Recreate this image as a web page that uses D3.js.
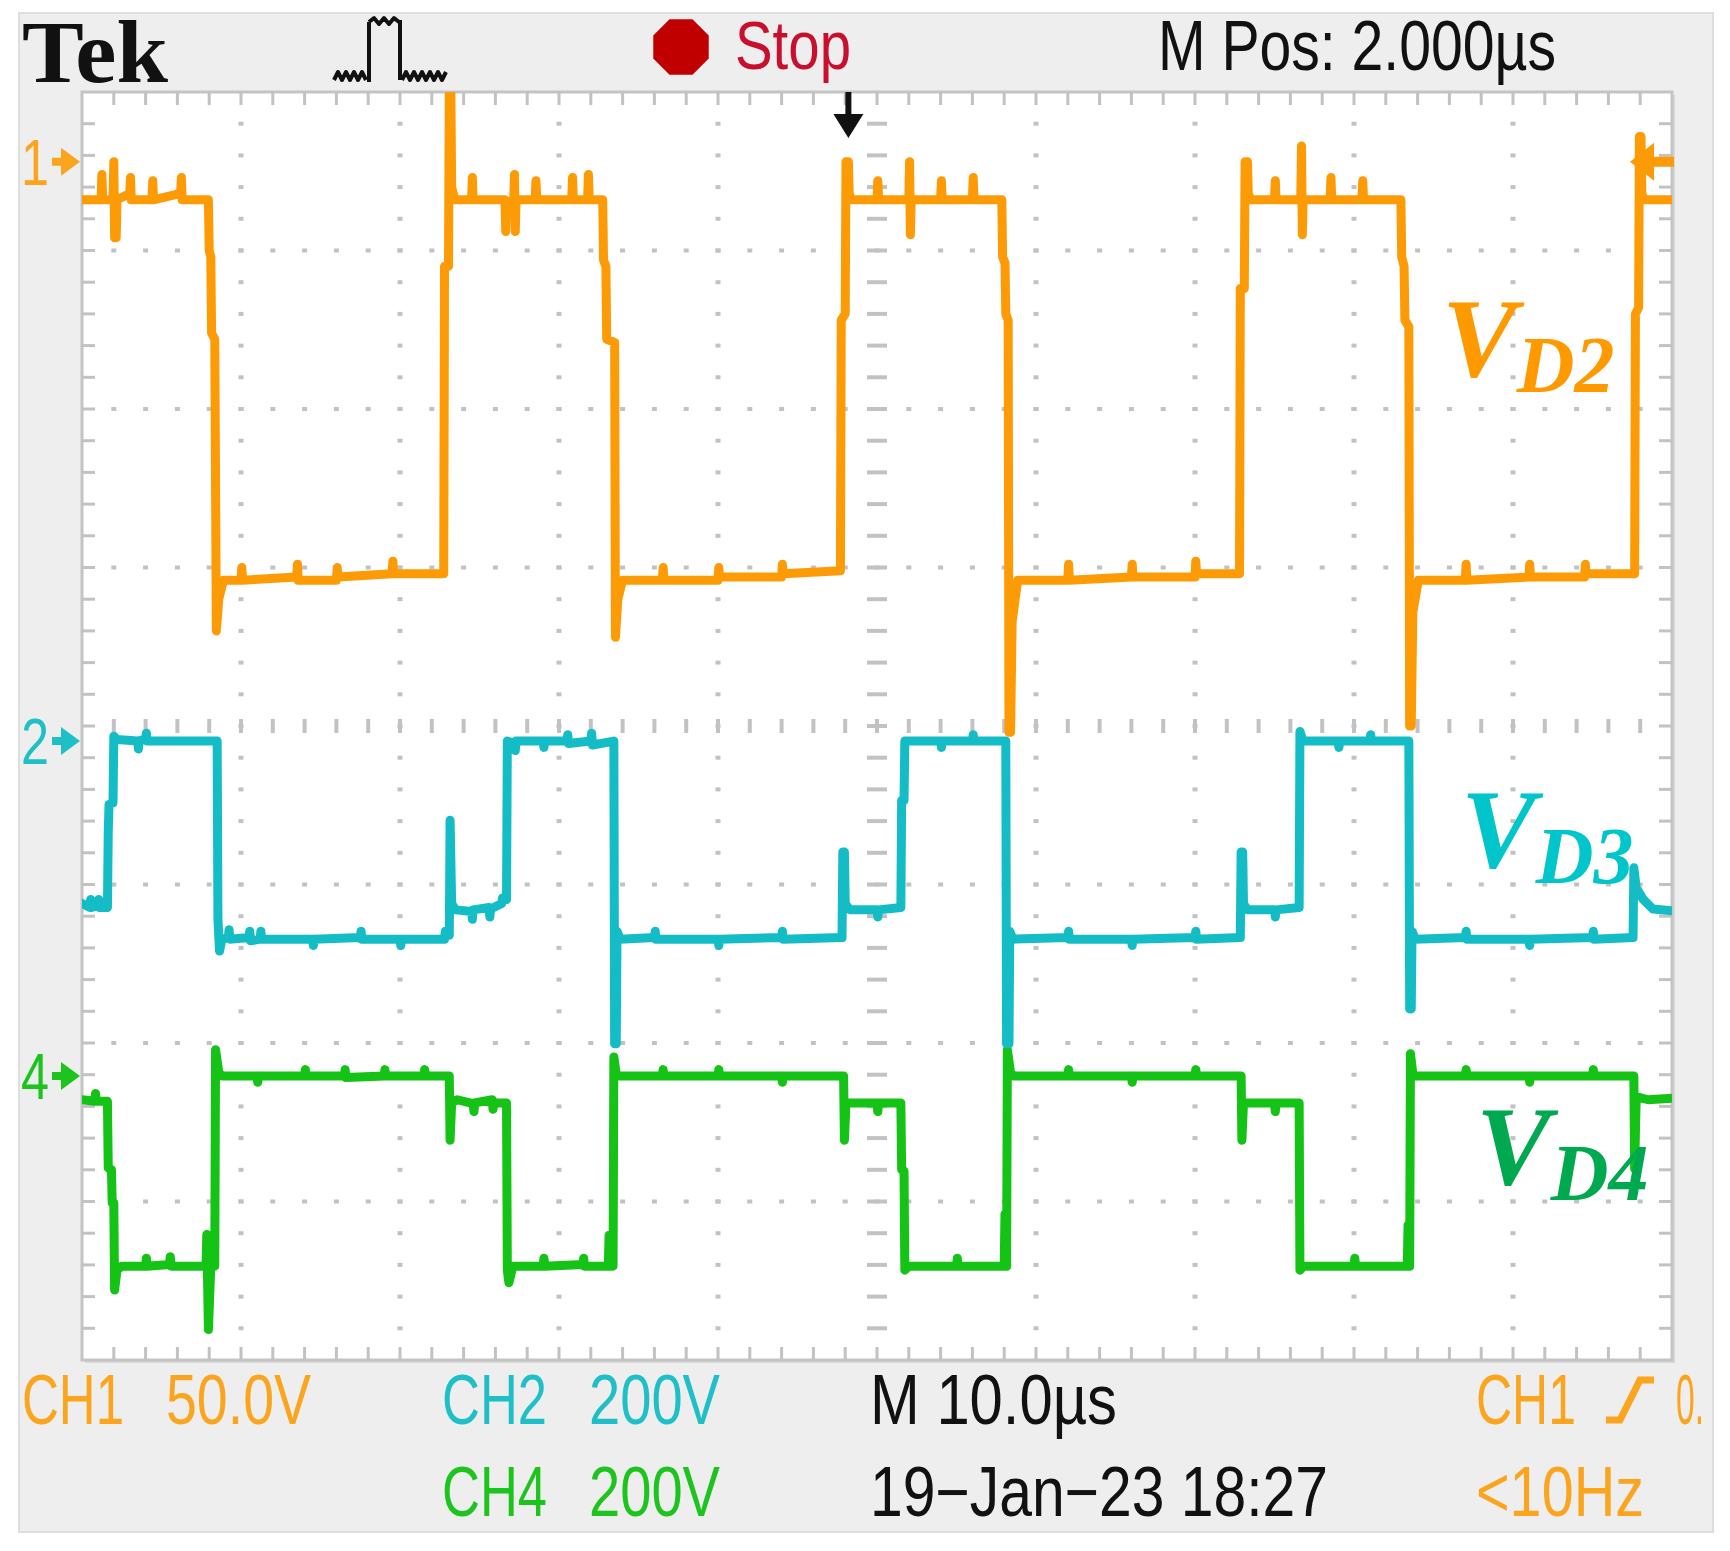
<!DOCTYPE html>
<meta charset="utf-8">
<style>
  body { margin: 0; background: #fff; }
  svg { display: block; }
</style>
<body>
<script src="https://cdn.jsdelivr.net/npm/d3@7"></script>
<script>

// ---- values (time in us, volts per channel) ----
var ch1 = [
  [0,-12],[1.2,-12],[1.25,-4],[1.3,-12],[1.95,-12],[2.0,0],[2.05,-24],[2.15,-24],[2.2,-12],[3,-10],[3.05,-5],[3.1,-12],
  [4.4,-12],[4.45,-6],[4.5,-12],[6.2,-10],[6.25,-5],[6.3,-12],[7.95,-12],[8.0,-28],[8.1,-30],[8.15,-54],[8.35,-56],
  [8.45,-148],[8.6,-138],[8.9,-132],[10,-132],[10.05,-128],[10.1,-132],[13.5,-131],[13.55,-127],[13.6,-132],
  [16,-132],[16.05,-128],[16.1,-131],[19.5,-130],[19.55,-126],[19.6,-130],[22.75,-130],[22.8,-33],[23.05,-33],
  [23.1,22],[23.2,22],[23.25,-8],[23.45,-12],[24.5,-12],[24.55,-5],[24.6,-12],[26.6,-12],[26.65,-22],[26.7,-13],
  [27.15,-12],[27.2,-4],[27.25,-22],[27.3,-12],[28.5,-12],[28.55,-6],[28.6,-12],[30.8,-12],[30.85,-5],[30.9,-12],
  [31.8,-12],[31.85,-4],[31.9,-12],[32.75,-12],[32.8,-31],[32.95,-33],[33.0,-56],[33.5,-57],[33.55,-150],
  [33.7,-138],[34.0,-132],[36.5,-132],[36.55,-128],[36.6,-132],[40,-132],[40.05,-128],[40.1,-131],[44,-131],
  [44.05,-127],[44.1,-130],[47.7,-129],[47.75,-50],[48.0,-48],[48.05,0],[48.2,0],[48.25,-10],[48.4,-12],
  [50,-12],[50.05,-6],[50.1,-12],[52,-12],[52.05,0],[52.1,-23],[52.15,-12],[54,-12],[54.05,-6],[54.1,-12],
  [56,-12],[56.05,-5],[56.1,-12],[57.85,-12],[57.9,-30],[58.05,-32],[58.1,-48],[58.25,-50],[58.3,-180],
  [58.4,-180],[58.5,-145],[58.85,-132],[62,-132],[62.05,-127],[62.1,-132],[66,-131],[66.05,-127],[66.1,-131],
  [70,-131],[70.05,-126],[70.1,-130],[72.8,-130],[72.85,-40],[73.1,-40],[73.15,0],[73.3,0],[73.35,-10],
  [73.5,-12],[75,-12],[75.05,-6],[75.1,-12],[76.65,-12],[76.7,5],[76.75,-23],[76.8,-12],[78.5,-12],[78.55,-5],
  [78.6,-12],[80.5,-12],[80.55,-6],[80.6,-12],[82.95,-12],[83.0,-30],[83.15,-33],[83.2,-50],[83.45,-52],
  [83.5,-178],[83.6,-178],[83.7,-142],[84.05,-132],[87,-132],[87.05,-127],[87.1,-132],[91,-131],[91.05,-127],
  [91.1,-131],[94.5,-131],[94.55,-127],[94.6,-130],[97.65,-130],[97.7,-48],[97.9,-46],[97.95,8],[98.05,8],
  [98.1,-10],[98.25,-12],[100,-12]
];

var ch2 = [
  [0,-205],[0.5,-210],[0.55,-200],[0.6,-210],[1,-208],[1.05,-200],[1.1,-210],[1.6,-210],[1.65,-115],[1.7,-80],
  [1.95,-78],[2,6],[2.2,2],[3.5,0],[3.55,-10],[3.6,0],[4,3],[4.05,10],[4.1,0],[8.5,0],[8.55,-225],[8.65,-265],
  [8.8,-250],[9.2,-248],[9.25,-238],[9.3,-250],[10.5,-248],[10.55,-240],[10.6,-252],[11.2,-250],[11.25,-240],
  [11.3,-250],[14.5,-250],[14.55,-258],[14.6,-250],[17.5,-248],[17.55,-240],[17.6,-250],[20,-250],[20.05,-258],
  [20.1,-250],[22.8,-250],[22.85,-240],[23.1,-245],[23.15,-100],[23.25,-205],[23.5,-213],[24.5,-215],
  [24.55,-225],[24.6,-213],[25.6,-210],[25.65,-222],[25.7,-212],[26.4,-205],[26.45,-198],[26.7,-200],[26.75,0],
  [27.2,-3],[27.25,-12],[27.3,0],[29,0],[29.05,-8],[29.1,0],[30.5,0],[30.55,8],[30.6,-3],[32,0],[32.05,10],
  [32.1,-5],[33.45,0],[33.5,-382],[33.6,-382],[33.65,-240],[33.85,-250],[36,-248],[36.05,-240],[36.1,-250],
  [40,-250],[40.05,-258],[40.1,-250],[44,-248],[44.05,-240],[44.1,-250],[47.8,-248],[47.85,-140],[47.95,-140],
  [48,-205],[48.3,-213],[50,-213],[50.05,-222],[50.1,-213],[51.5,-210],[51.55,-75],[51.7,-75],[51.75,0],[52,0],
  [54,0],[54.05,-8],[54.1,0],[56,0],[56.05,8],[56.1,0],[58.1,0],[58.15,-382],[58.3,-382],[58.35,-240],
  [58.55,-250],[62,-248],[62.05,-240],[62.1,-250],[66,-250],[66.05,-258],[66.1,-250],[70,-248],[70.05,-240],
  [70.1,-250],[72.85,-248],[72.9,-140],[73,-140],[73.05,-205],[73.3,-213],[75,-213],[75.05,-222],[75.1,-213],
  [76.55,-210],[76.6,12],[76.8,0],[79,0],[79.05,-8],[79.1,0],[81,0],[81.05,8],[81.1,0],[83.45,0],[83.5,-338],
  [83.6,-338],[83.65,-240],[83.85,-250],[87,-248],[87.05,-240],[87.1,-250],[91,-250],[91.05,-258],[91.1,-250],
  [95,-248],[95.05,-240],[95.1,-250],[97.55,-248],[97.6,-160],[97.75,-185],[98.2,-200],[98.8,-212],[100,-214]
];

var ch4 = [
  [0,-30],[0.8,-32],[0.85,-22],[0.9,-32],[1.6,-32],[1.65,-116],[1.85,-118],[1.9,-160],[2,-160],[2.05,-270],
  [2.2,-245],[2.5,-240],[4,-240],[4.05,-230],[4.1,-240],[5.5,-238],[5.55,-228],[5.6,-240],[7.8,-240],
  [7.85,-200],[7.95,-320],[8.1,-240],[8.35,-240],[8.4,33],[8.6,5],[8.8,0],[11,0],[11.05,-8],[11.1,0],[14,0],
  [14.05,8],[14.1,0],[16.5,0],[16.55,8],[16.6,-2],[19,0],[19.05,8],[19.1,0],[21.5,0],[21.55,8],[21.6,0],
  [23.1,0],[23.15,-81],[23.25,-34],[23.6,-30],[24.6,-35],[24.65,-45],[24.7,-34],[25.8,-30],[25.85,-42],
  [25.9,-34],[26.7,-34],[26.75,-245],[26.85,-261],[27.1,-240],[29,-240],[29.05,-230],[29.1,-240],[31.5,-238],
  [31.55,-230],[31.6,-240],[33.1,-240],[33.15,-201],[33.25,-240],[33.4,-240],[33.45,24],[33.6,2],[33.8,0],
  [36.5,0],[36.55,8],[36.6,0],[40,0],[40.05,8],[40.1,0],[44,0],[44.05,-8],[44.1,0],[47.9,0],[47.95,-81],
  [48.05,-34],[50,-34],[50.05,-45],[50.1,-34],[51.5,-34],[51.55,-118],[51.7,-120],[51.75,-245],[52,-240],
  [55,-240],[55.05,-230],[55.1,-240],[58,-240],[58.05,-174],[58.15,-240],[58.2,33],[58.4,4],[58.6,0],[62,0],
  [62.05,8],[62.1,0],[66,0],[66.05,-8],[66.1,0],[70,0],[70.05,8],[70.1,0],[72.9,0],[72.95,-81],[73.05,-34],
  [75,-34],[75.05,-45],[75.1,-34],[76.55,-34],[76.6,-245],[76.8,-240],[80,-240],[80.05,-230],[80.1,-240],
  [83.35,-240],[83.4,-188],[83.5,-240],[83.55,28],[83.7,3],[83.9,0],[87,0],[87.05,8],[87.1,0],[91,0],
  [91.05,-8],[91.1,0],[95,0],[95.05,8],[95.1,0],[97.6,0],[97.65,-117],[97.75,-26],[98.5,-30],[100,-28]
];

// vertical settings per channel: volts per division and ground marker (divisions from top)
var voltsPerDiv = { ch1: 50, ch2: 200, ch4: 200 };
var groundDiv   = { ch1: 0.44, ch2: 4.095, ch4: 6.208 };
var triggerTime = 48.2;      // us, trigger position arrow
var triggerLevel = 0;        // volts on CH1

var footerRow1 = ["CH1", "50.0V", "CH2", "200V", "M 10.0\u00b5s", "CH1", "0."];
var footerRow2 = ["CH4", "200V", "19\u2212Jan\u221223 18:27", "<10Hz"];
var traceNames = ["D2", "D3", "D4"];

// ---- layout ----
var W = 1730, H = 1551;
var G = { left: 82, right: 1672, top: 92, bottom: 1360 };
var orange = "#fc9b06", cyan = "#14bdc5", green = "#15c216";
var textOrange = "#fba41e", textCyan = "#1fbfc8", textGreen = "#1ec41e";

var svg = d3.select("body").append("svg")
    .attr("width", W).attr("height", H)
    .attr("viewBox", "0 0 " + W + " " + H);

var xDiv = d3.scaleLinear().domain([0, 10]).range([G.left, G.right]);
var yDiv = d3.scaleLinear().domain([0, 8]).range([G.top, G.bottom]);
var xTime = d3.scaleLinear().domain([0, 100]).range([G.left, G.right]);

function yChan(key) {
  var g = groundDiv[key];
  return d3.scaleLinear().domain([0, -voltsPerDiv[key]]).range([yDiv(g), yDiv(g + 1)]);
}

// panel background
svg.append("rect").attr("x", 19).attr("y", 13).attr("width", 1694).attr("height", 1519)
    .attr("fill", "#eeeeee").attr("stroke", "#dedede").attr("stroke-width", 2);

svg.append("clipPath").attr("id", "gratClip").append("rect")
    .attr("x", G.left).attr("y", G.top).attr("width", G.right - G.left).attr("height", G.bottom - G.top);

// graticule
svg.append("rect").attr("x", G.left + 3).attr("y", G.top + 3)
    .attr("width", G.right - G.left).attr("height", G.bottom - G.top)
    .attr("fill", "#d9d9d9");
svg.append("rect").attr("x", G.left).attr("y", G.top)
    .attr("width", G.right - G.left).attr("height", G.bottom - G.top)
    .attr("fill", "#fff").attr("stroke", "#c4c4c4").attr("stroke-width", 3);

var grid = svg.append("g").attr("fill", "#c2c2c2");
var minorX = d3.range(0, 50.001, 1).map(function(i) { return i / 5; });
var minorY = d3.range(0, 40.001, 1).map(function(i) { return i / 5; });

// dotted major lines
d3.range(1, 10).filter(function(i) { return i !== 5; }).forEach(function(i) {
  grid.selectAll(null).data(minorY.slice(1, -1)).enter().append("rect")
      .attr("x", xDiv(i) - 2.5).attr("y", function(d) { return yDiv(d) - 2; })
      .attr("width", 5).attr("height", 4);
});
d3.range(1, 8).filter(function(i) { return i !== 4; }).forEach(function(i) {
  grid.selectAll(null).data(minorX.slice(1, -1)).enter().append("rect")
      .attr("x", function(d) { return xDiv(d) - 2.5; }).attr("y", yDiv(i) - 2)
      .attr("width", 5).attr("height", 4);
});
// centre axes with ticks
grid.selectAll(null).data(minorY.slice(1, -1)).enter().append("rect")
    .attr("x", xDiv(5) - 10).attr("y", function(d) { return yDiv(d) - 2; })
    .attr("width", 20).attr("height", 4);
grid.selectAll(null).data(minorX.slice(1, -1)).enter().append("rect")
    .attr("x", function(d) { return xDiv(d) - 2; }).attr("y", yDiv(4) - 7)
    .attr("width", 4).attr("height", 14);
// edge ticks
grid.selectAll(null).data(minorX.slice(1, -1)).enter().append("rect")
    .attr("x", function(d) { return xDiv(d) - 1.5; }).attr("y", G.top)
    .attr("width", 3).attr("height", 13);
grid.selectAll(null).data(minorX.slice(1, -1)).enter().append("rect")
    .attr("x", function(d) { return xDiv(d) - 1.5; }).attr("y", G.bottom - 13)
    .attr("width", 3).attr("height", 13);
grid.selectAll(null).data(minorY.slice(1, -1)).enter().append("rect")
    .attr("x", G.left).attr("y", function(d) { return yDiv(d) - 1.5; })
    .attr("width", 13).attr("height", 3);
grid.selectAll(null).data(minorY.slice(1, -1)).enter().append("rect")
    .attr("x", G.right - 13).attr("y", function(d) { return yDiv(d) - 1.5; })
    .attr("width", 13).attr("height", 3);

// traces
var traces = svg.append("g").attr("clip-path", "url(#gratClip)")
    .attr("fill", "none").attr("stroke-width", 9)
    .attr("stroke-linejoin", "round").attr("stroke-linecap", "square");

function drawTrace(data, key, color) {
  var y = yChan(key);
  var line = d3.line().x(function(d) { return xTime(d[0]); }).y(function(d) { return y(d[1]); });
  traces.append("path").attr("d", line(data)).attr("stroke", color);
}
drawTrace(ch4, "ch4", green);
drawTrace(ch2, "ch2", cyan);
drawTrace(ch1, "ch1", orange);

// channel ground markers
var scopeFont = "'Liberation Sans Narrow', 'Liberation Sans', Arial, sans-serif";
[["1", "ch1", textOrange], ["2", "ch2", textCyan], ["4", "ch4", textGreen]].forEach(function(m) {
  var yc = yChan(m[1])(0);
  svg.append("text").attr("x", 21).attr("y", yc + 23).text(m[0])
      .attr("font-family", scopeFont).attr("font-size", 64).attr("fill", m[2])
      .attr("textLength", 28).attr("lengthAdjust", "spacingAndGlyphs");
  svg.append("path")
      .attr("d", "M52," + (yc - 4) + "H61V" + (yc - 14) + "L80," + yc + "L61," + (yc + 14) + "V" + (yc + 4) + "H52Z")
      .attr("fill", m[2]);
});

// trigger level arrow (right edge)
var yTrig = yChan("ch1")(triggerLevel);
svg.append("path")
    .attr("d", "M1630," + yTrig + "L1654," + (yTrig - 19) + "V" + (yTrig - 5) + "H1674V" + (yTrig + 5) + "H1654V" + (yTrig + 19) + "Z")
    .attr("fill", orange);

// trigger position arrow (top)
var xT = xTime(triggerTime);
svg.append("path")
    .attr("d", "M" + (xT - 3) + "," + G.top + "H" + (xT + 3) + "V" + 114 + "H" + (xT + 15) + "L" + xT + ",138L" + (xT - 15) + ",114H" + (xT - 3) + "Z")
    .attr("fill", "#111");

// header
svg.append("text").attr("x", 22).attr("y", 82).text("Tek")
    .attr("font-family", "'Liberation Serif', 'DejaVu Serif', serif").attr("font-weight", "bold")
    .attr("font-size", 88).attr("fill", "#111")
    .attr("textLength", 146).attr("lengthAdjust", "spacingAndGlyphs");

svg.append("path")
    .attr("d", "M334,80l4,-8l4,8l4,-8l4,8l4,-8l4,8l4,-8l4,8 M369,82V22 M369,22l5,-4l5,6l5,-6l5,6l5,-6l5,4 M400,20V80 M402,80l4,-8l4,8l4,-8l4,8l4,-8l4,8l4,-8l4,8l4,-8l4,8l4,-8")
    .attr("fill", "none").attr("stroke", "#111").attr("stroke-width", 4).attr("stroke-linejoin", "round");

var oct = d3.range(8).map(function(i) {
  var a = Math.PI / 8 + i * Math.PI / 4;
  return [681 + 30 * Math.cos(a), 47 + 30 * Math.sin(a)];
});
svg.append("polygon").attr("points", oct.join(" ")).attr("fill", "#c00000");
svg.append("text").attr("x", 735).attr("y", 69).text("Stop")
    .attr("font-family", scopeFont).attr("font-size", 68).attr("fill", "#c8102e")
    .attr("textLength", 116).attr("lengthAdjust", "spacingAndGlyphs");
svg.append("text").attr("x", 1158).attr("y", 70).text("M Pos: 2.000\u00b5s")
    .attr("font-family", scopeFont).attr("font-size", 70).attr("fill", "#111")
    .attr("textLength", 398).attr("lengthAdjust", "spacingAndGlyphs");

// footer
var foot = svg.append("g").attr("font-family", scopeFont).attr("font-size", 70);
var row1Pos = [[22, 102, textOrange], [166, 145, textOrange], [442, 105, textCyan], [589, 131, textCyan],
               [870, 247, "#111"], [1476, 100, textOrange], [1676, 28, textOrange]];
var row2Pos = [[442, 105, textGreen], [589, 131, textGreen], [870, 458, "#111"], [1476, 168, textOrange]];
footerRow1.forEach(function(s, i) {
  foot.append("text").attr("x", row1Pos[i][0]).attr("y", 1424).text(s).attr("fill", row1Pos[i][2])
      .attr("textLength", row1Pos[i][1]).attr("lengthAdjust", "spacingAndGlyphs");
});
footerRow2.forEach(function(s, i) {
  foot.append("text").attr("x", row2Pos[i][0]).attr("y", 1516).text(s).attr("fill", row2Pos[i][2])
      .attr("textLength", row2Pos[i][1]).attr("lengthAdjust", "spacingAndGlyphs");
});
// trigger slope glyph
svg.append("path").attr("d", "M1606,1420H1620L1640,1380H1654")
    .attr("fill", "none").attr("stroke", textOrange).attr("stroke-width", 7);

// trace labels
var labelPos = [[1442, 376, "#ff9900"], [1461, 867, "#00c6cc"], [1476, 1184, "#00a94f"]];
traceNames.forEach(function(n, i) {
  var p = labelPos[i];
  var t = svg.append("text").attr("x", p[0]).attr("y", p[1])
      .attr("font-family", "'Liberation Serif', 'Times New Roman', serif")
      .attr("font-style", "italic").attr("font-weight", "bold").attr("fill", p[2]);
  t.append("tspan").attr("font-size", 112).text("V");
  t.append("tspan").attr("font-size", 80).attr("dy", 16).text(n);
});

</script>
</body>
